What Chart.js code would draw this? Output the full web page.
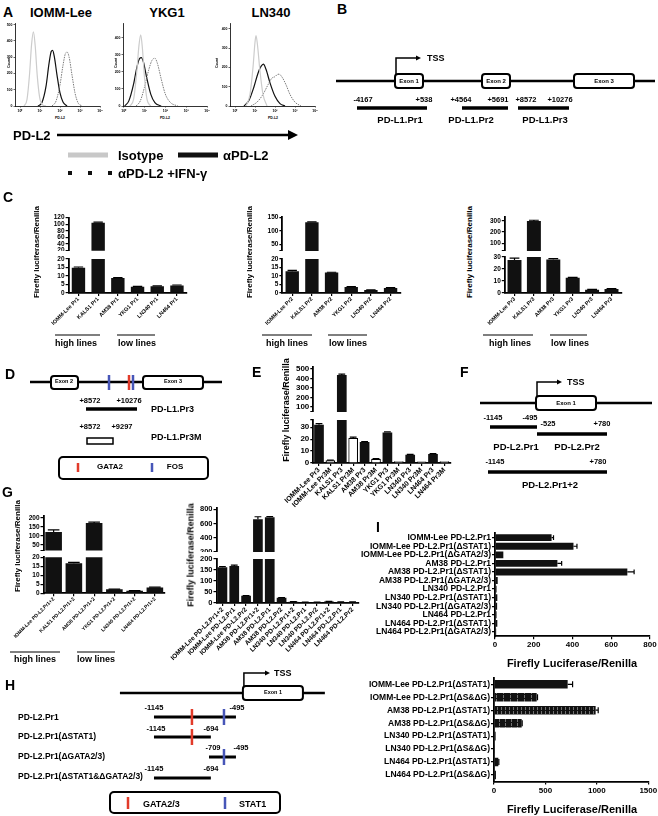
<!DOCTYPE html>
<html>
<head>
<meta charset="utf-8">
<script src="https://cdn.jsdelivr.net/npm/chart.js@4/dist/chart.umd.min.js"></script>
<style>
  html, body { margin: 0; padding: 0; background: #fff; }
  #fig { position: relative; width: 658px; height: 816px; overflow: hidden; background: #fff;
         font-family: "Liberation Sans", Arial, Helvetica, sans-serif; font-weight: bold; color: #000; }
  #fig canvas { position: absolute; }
  .t { position: absolute; white-space: nowrap; line-height: 1; }
</style>
</head>
<body>
<div id="fig"></div>
<script>
// ---- A: flow histograms, x = log10 decade, y = count ----
const decadeTicks = [0, 1, 2, 3, 4];
const decadeText = ['10⁰', '10¹', '10²', '10³', '10⁴'];
const isoIOMM = [[0.2,0],[0.35,40],[0.48,200],[0.58,380],[0.67,455],[0.76,370],[0.86,190],[0.98,55],[1.12,8],[1.3,0]];
const pdl2IOMM = [[0.9,0],[1.1,22],[1.3,120],[1.45,260],[1.56,335],[1.63,342],[1.72,300],[1.85,190],[2.0,80],[2.15,25],[2.35,0]];
const ifnIOMM = [[1.6,0],[1.8,30],[2.0,130],[2.15,250],[2.28,325],[2.36,331],[2.46,298],[2.6,190],[2.75,80],[2.9,20],[3.1,0]];
const isoYKG1 = [[0.3,0],[0.48,40],[0.63,200],[0.74,360],[0.82,418],[0.9,340],[1.0,170],[1.12,40],[1.3,0]];
const pdl2YKG1 = [[0.05,0],[0.25,30],[0.48,130],[0.64,230],[0.77,280],[0.85,284],[0.95,258],[1.1,170],[1.3,70],[1.5,20],[1.8,0]];
const ifnYKG1 = [[0.6,0],[0.8,30],[1.0,110],[1.2,210],[1.36,268],[1.5,280],[1.62,250],[1.8,160],[2.0,70],[2.25,20],[2.6,0]];
const isoLN340 = [[0.55,0],[0.75,60],[0.9,200],[1.0,330],[1.05,365],[1.12,320],[1.25,180],[1.4,60],[1.6,0]];
const pdl2LN340 = [[0.45,0],[0.7,30],[0.95,100],[1.15,170],[1.3,205],[1.42,217],[1.55,190],[1.75,120],[2.0,50],[2.25,12],[2.5,0]];
const ifnLN340 = [[0.8,0],[1.1,20],[1.4,60],[1.65,110],[1.85,145],[2.0,152],[2.1,162],[2.2,165],[2.35,150],[2.55,110],[2.75,60],[3.0,20],[3.3,0]];
const countTicks500 = [0, 100, 200, 300, 400, 500];
const countTicks400 = [0, 100, 200, 300, 400];

// ---- C: PD-L1 promoter fragments ----
const c1Labels = ['IOMM-Lee Pr1', 'KALS1 Pr1', 'AM38 Pr1', 'YKG1 Pr1', 'LN340 Pr1', 'LN464 Pr1'];
const c1Values = [14.8, 105, 8.8, 3.7, 4.0, 4.4];
const c1Errors = [0.5, 1.5, 0.2, 0.2, 0.2, 0.3];
const c2Labels = ['IOMM-Lee Pr2', 'KALS1 Pr2', 'AM38 Pr2', 'YKG1 Pr2', 'LN340 Pr2', 'LN464 Pr2'];
const c2Values = [12.8, 132, 12, 3.6, 1.8, 3.0];
const c2Errors = [0.5, 2, 0.2, 0.2, 0.1, 0.2];
const c3Labels = ['IOMM-Lee Pr3', 'KALS1 Pr3', 'AM38 Pr3', 'YKG1 Pr3', 'LN340 Pr3', 'LN464 Pr3'];
const c3Values = [27.5, 298, 28, 12.7, 2.8, 3.4];
const c3Errors = [1.5, 8, 0.7, 0.3, 0.2, 0.3];
const c1UpperTicks = [20, 40, 60, 80, 100, 120];
const c2UpperTicks = [25, 50, 100, 150];
const c2UpperText = ['', '50', '100', '150'];
const c3UpperTicks = [30, 100, 200, 300];
const c3UpperText = ['', '100', '200', '300'];
const lower20Ticks = [0, 5, 10, 15, 20];
const lower30Ticks = [0, 10, 20, 30];

// ---- E: Pr3 vs mutated Pr3M ----
const eLabels = ['IOMM-Lee Pr3', 'IOMM-Lee Pr3M', 'KALS1 Pr3', 'KALS1 Pr3M', 'AM38 Pr3', 'AM38 Pr3M',
                 'YKG1 Pr3', 'YKG1 Pr3M', 'LN340 Pr3', 'LN340 Pr3M', 'LN464 Pr3', 'LN464 Pr3M'];
const eValues = [32, 2.2, 437, 21, 17.5, 3.5, 25.5, 1.5, 7, 1.2, 7.5, 1.5];
const eErrors = [1, 0.2, 8, 0.6, 0.4, 0.2, 0.6, 0, 0.2, 0, 0.3, 0];
const eUpperTicks = [47, 100, 200, 300, 400, 500];
const eUpperText = ['', '100', '200', '300', '400', '500'];
const eLowerTicks = [0, 10, 20, 30, 36];
const eLowerText = ['0', '10', '20', '30', ''];

// ---- G: PD-L2 promoter fragments ----
const g1Labels = ['IOMM-Lee PD-L2.Pr1+2', 'KALS1 PD-L2.Pr1+2', 'AM38 PD-L2.Pr1+2', 'YKG1 PD-L2.Pr1+2', 'LN340 PD-L2.Pr1+2', 'LN464 PD-L2.Pr1+2'];
const g1Values = [122, 16.7, 172, 2.2, 1.4, 3.2];
const g1Errors = [12, 0.5, 4, 0.1, 0.1, 0.2];
const g1UpperTicks = [20, 50, 100, 150, 200];
const g1UpperText = ['', '50', '100', '150', '200'];
const g2Labels = ['IOMM-Lee PD-L2.Pr1+2', 'IOMM-Lee PD-L2.Pr1', 'IOMM-Lee PD-L2.Pr2', 'AM38 PD-L2.Pr1+2', 'AM38 PD-L2.Pr1', 'AM38 PD-L2.Pr2',
                  'LN340 PD-L2.Pr1+2', 'LN340 PD-L2.Pr1', 'LN340 PD-L2.Pr2', 'LN464 PD-L2.Pr1+2', 'LN464 PD-L2.Pr1', 'LN464 PD-L2.Pr2'];
const g2Values = [162, 168, 33, 662, 688, 24, 6, 4, 4, 7, 5, 5];
const g2Errors = [4, 4, 1, 35, 12, 1, 0.5, 0.3, 0.3, 0.5, 0.3, 0.3];
const g2UpperTicks = [200, 400, 600, 800];
const g2LowerTicks = [0, 50, 100, 150, 200];

// ---- H: PD-L2.Pr1 deletion constructs (bp) ----
const hConstructs = [[-1145, -495], [-1145, -694], [-709, -495], [-1145, -694]];
const hGataRows = [0, 1];
const hStatRows = [0, 2];
const gataSite = -844;
const stat1Site = -590;

// ---- I: horizontal luciferase bars ----
const i1Labels = ['IOMM-Lee PD-L2.Pr1', 'IOMM-Lee PD-L2.Pr1(ΔSTAT1)', 'IOMM-Lee PD-L2.Pr1(ΔGATA2/3)', 'AM38 PD-L2.Pr1',
                  'AM38 PD-L2.Pr1(ΔSTAT1)', 'AM38 PD-L2.Pr1(ΔGATA2/3)', 'LN340 PD-L2.Pr1', 'LN340 PD-L2.Pr1(ΔSTAT1)',
                  'LN340 PD-L2.Pr1(ΔGATA2/3)', 'LN464 PD-L2.Pr1', 'LN464 PD-L2.Pr1(ΔSTAT1)', 'LN464 PD-L2.Pr1(ΔGATA2/3)'];
const i1Values = [292, 405, 43, 322, 683, 14, 8, 12, 11, 8, 12, 6];
const i1Errors = [10, 18, 0, 22, 35, 0, 0, 0, 0, 0, 0, 0];
const i1Ticks = [0, 200, 400, 600, 800];
const i2Labels = ['IOMM-Lee PD-L2.Pr1(ΔSTAT1)', 'IOMM-Lee PD-L2.Pr1(ΔS&ΔG)', 'AM38 PD-L2.Pr1(ΔSTAT1)', 'AM38 PD-L2.Pr1(ΔS&ΔG)',
                  'LN340 PD-L2.Pr1(ΔSTAT1)', 'LN340 PD-L2.Pr1(ΔS&ΔG)', 'LN464 PD-L2.Pr1(ΔSTAT1)', 'LN464 PD-L2.Pr1(ΔS&ΔG)'];
const i2Values = [716, 415, 988, 269, 16, 8, 42, 19];
const i2Errors = [48, 8, 25, 5, 0, 0, 5, 0];
const i2Ticks = [0, 500, 1000, 1500];

const RED = '#e23b2a', BLUE = '#4756b8';

Chart.defaults.font.family = '"Liberation Sans", Arial, Helvetica, sans-serif';
Chart.defaults.font.weight = 'bold';
Chart.defaults.color = '#000';
Chart.defaults.animation = false;
Chart.defaults.responsive = false;
Chart.defaults.events = [];
Chart.defaults.plugins.legend.display = false;
Chart.defaults.plugins.tooltip.enabled = false;

// error bars, positive side only, drawn only where the bar top sits in this segment
Chart.register({
  id: 'errs',
  afterDatasetsDraw(chart) {
    const ctx = chart.ctx, hz = chart.options.indexAxis === 'y';
    chart.data.datasets.forEach((ds, di) => {
      if (!ds.errors) return;
      const vs = hz ? chart.scales.x : chart.scales.y;
      ctx.save();
      ctx.strokeStyle = '#000'; ctx.lineWidth = 1.2;
      chart.getDatasetMeta(di).data.forEach((bar, i) => {
        const e = ds.errors[i], v = ds.data[i];
        if (!e || v > vs.max || v + e < vs.min) return;
        const p0 = vs.getPixelForValue(Math.max(v, vs.min)), p1 = vs.getPixelForValue(Math.min(v + e, vs.max));
        const half = (hz ? bar.height : bar.width) * 0.35;
        ctx.beginPath();
        if (hz) { ctx.moveTo(p0, bar.y); ctx.lineTo(p1, bar.y); ctx.moveTo(p1, bar.y - half); ctx.lineTo(p1, bar.y + half); }
        else { ctx.moveTo(bar.x, p0); ctx.lineTo(bar.x, p1); ctx.moveTo(bar.x - half, p1); ctx.lineTo(bar.x + half, p1); }
        ctx.stroke();
      });
      ctx.restore();
    });
  }
});

const fig = document.getElementById('fig');

function place(x, y, w, h) {
  const c = document.createElement('canvas');
  c.width = w; c.height = h;
  c.style.left = x + 'px'; c.style.top = y + 'px';
  c.style.width = w + 'px'; c.style.height = h + 'px';
  fig.appendChild(c);
  return c;
}

// canvas around a wanted chart area [x0,y0,x1,y1]
function frame(a, m) {
  const x = Math.floor(a[0] - m.l), y = Math.floor(a[1] - m.t);
  const w = Math.ceil(a[2] + m.r) - x, h = Math.ceil(a[3] + m.b) - y;
  return { c: place(x, y, w, h), l: a[0] - x, t: a[1] - y, r: x + w - a[2], b: y + h - a[3] };
}

const fixW = w => s => { s.width = w; s.paddingTop = s.paddingBottom = s.paddingLeft = s.paddingRight = 0; };
const fixH = h => s => { s.height = h; s.paddingTop = s.paddingBottom = s.paddingLeft = s.paddingRight = 0; };

function T(s, x, y, size, align) {
  const d = document.createElement('div');
  d.className = 't'; d.textContent = s;
  d.style.left = x + 'px'; d.style.top = y + 'px'; d.style.fontSize = size + 'px';
  const tx = align === 'l' ? '0' : align === 'r' ? '-100%' : '-50%';
  d.style.transform = 'translate(' + tx + ',-50%)';
  fig.appendChild(d);
}
function V(s, x, y, size) {
  const d = document.createElement('div');
  d.className = 't'; d.textContent = s;
  d.style.left = x + 'px'; d.style.top = y + 'px'; d.style.fontSize = size + 'px';
  d.style.transform = 'translate(-50%,-50%) rotate(-90deg)';
  fig.appendChild(d);
}

// one segment of a (possibly broken) bar chart
function barSeg(o) {
  const hz = !!o.hz, showCat = o.showCat !== false;
  const f = frame(o.area, o.m);
  const val = {
    type: 'linear', min: o.min, max: o.max,
    afterBuildTicks: s => { s.ticks = o.ticks.map(v => ({ value: v })); },
    ticks: { autoSkip: false, font: { size: o.vFont }, padding: 1, maxRotation: 0,
             callback: (v, i) => (o.tickText ? o.tickText[i] : v) },
    grid: { drawOnChartArea: false, tickLength: 3, color: '#000', lineWidth: 1.2 },
    border: { color: '#000', width: 1.8 },
    afterFit: hz ? fixH(f.b) : fixW(f.l)
  };
  const cat = {
    type: 'category', offset: true, display: showCat,
    ticks: { autoSkip: false, font: { size: o.cFont }, padding: hz ? 1 : 0, minRotation: hz ? 0 : 45, maxRotation: hz ? 0 : 45 },
    grid: { offset: false, drawOnChartArea: false, tickLength: 3, color: '#000', lineWidth: 1.2 },
    border: { color: '#000', width: 1.8 }
  };
  if (showCat) cat.afterFit = hz ? fixW(f.l) : fixH(f.b);
  const pad = { left: 0, top: f.t, right: f.r, bottom: !hz && !showCat ? f.b : 0 };
  return new Chart(f.c, {
    type: 'bar',
    data: { labels: o.labels, datasets: [{ data: o.values, errors: o.errors, backgroundColor: o.fill || '#111',
      borderColor: '#000', borderWidth: o.bw || 0, barPercentage: o.bp, categoryPercentage: 1, clip: 0 }] },
    options: { indexAxis: hz ? 'y' : 'x', layout: { padding: pad }, scales: hz ? { x: val, y: cat } : { x: cat, y: val } }
  });
}

function histo(area, curves, yTicks, yMax, xMin) {
  const f = frame(area, { l: 10, t: 3, r: 3, b: 8 });
  const look = [
    { borderColor: '#cccccc', borderWidth: 1.2 },
    { borderColor: '#7a7a7a', borderWidth: 1, borderDash: [1.5, 1] },
    { borderColor: '#111111', borderWidth: 1.2 }
  ];
  const axisGrid = { drawOnChartArea: false, tickLength: 1.5, color: '#000', lineWidth: 0.6 };
  return new Chart(f.c, {
    type: 'line',
    data: { datasets: curves.map((pts, i) => Object.assign({ data: pts.map(p => ({ x: p[0], y: p[1] })),
      pointRadius: 0, cubicInterpolationMode: 'monotone', fill: false, clip: 0 }, look[i])) },
    options: {
      layout: { padding: { left: 0, top: f.t, right: f.r, bottom: 0 } },
      scales: {
        x: { type: 'linear', min: xMin, max: 4, afterBuildTicks: s => { s.ticks = decadeTicks.map(v => ({ value: v })); },
             ticks: { autoSkip: false, font: { size: 3.5 }, padding: 1, maxRotation: 0, callback: (v, i) => decadeText[i] },
             grid: axisGrid, border: { color: '#000', width: 0.8 }, afterFit: fixH(f.b) },
        y: { type: 'linear', min: 0, max: yMax, afterBuildTicks: s => { s.ticks = yTicks.map(v => ({ value: v })); },
             ticks: { autoSkip: false, font: { size: 3.5 }, padding: 1 },
             grid: axisGrid, border: { color: '#000', width: 0.8 }, afterFit: fixW(f.l) }
      }
    }
  });
}

// schematic drawings through hidden linear scales
function drawSpec(ch, s) {
  const ctx = ch.ctx, X = v => ch.scales.x.getPixelForValue(v), Y = v => ch.scales.y.getPixelForValue(v);
  ctx.save();
  (s.lines || []).forEach(([x1, x2, y, w, col]) => {
    ctx.strokeStyle = col || '#000'; ctx.lineWidth = w;
    ctx.beginPath(); ctx.moveTo(X(x1), Y(y)); ctx.lineTo(X(x2), Y(y)); ctx.stroke();
  });
  (s.boxes || []).forEach(([x1, x2, y1, y2, w, r]) => {
    ctx.fillStyle = '#fff'; ctx.strokeStyle = '#000'; ctx.lineWidth = w;
    ctx.beginPath();
    if (ctx.roundRect) ctx.roundRect(X(x1), Y(y1), X(x2) - X(x1), Y(y2) - Y(y1), r);
    else ctx.rect(X(x1), Y(y1), X(x2) - X(x1), Y(y2) - Y(y1));
    ctx.fill(); ctx.stroke();
  });
  (s.marks || []).forEach(([x, y1, y2, w, col]) => {
    ctx.strokeStyle = col; ctx.lineWidth = w;
    ctx.beginPath(); ctx.moveTo(X(x), Y(y1)); ctx.lineTo(X(x), Y(y2)); ctx.stroke();
  });
  (s.arrows || []).forEach(([pts, w, head]) => {
    const last = pts[pts.length - 1], ex = X(last[0]), ey = Y(last[1]);
    ctx.strokeStyle = '#000'; ctx.fillStyle = '#000'; ctx.lineWidth = w;
    ctx.beginPath();
    pts.forEach((p, i) => {
      const px = i === pts.length - 1 ? ex - head * 0.8 : X(p[0]);
      if (i === 0) ctx.moveTo(px, Y(p[1])); else ctx.lineTo(px, Y(p[1]));
    });
    ctx.stroke();
    ctx.beginPath(); ctx.moveTo(ex, ey); ctx.lineTo(ex - head, ey - head * 0.5); ctx.lineTo(ex - head, ey + head * 0.5); ctx.closePath(); ctx.fill();
  });
  ctx.restore();
}
function diagram(box, xr, spec) {
  const c = place(box[0], box[1], box[2] - box[0], box[3] - box[1]);
  return new Chart(c, {
    type: 'scatter',
    data: { datasets: [] },
    options: {
      layout: { padding: 0 },
      scales: {
        x: { type: 'linear', display: false, min: xr ? xr[0] : box[0], max: xr ? xr[1] : box[2] },
        y: { type: 'linear', display: false, reverse: true, min: box[1], max: box[3] }
      }
    },
    plugins: [{ id: 'dg', afterDraw: ch => drawSpec(ch, spec) }]
  });
}

// ================= A =================
histo([15, 23, 100, 106], [isoIOMM, ifnIOMM, pdl2IOMM], countTicks500, 510, -0.25);
histo([123, 23, 207, 106], [isoYKG1, ifnYKG1, pdl2YKG1], countTicks400, 487, -0.03);
histo([230, 23, 315, 106], [isoLN340, ifnLN340, pdl2LN340], countTicks400, 430, -0.25);
diagram([0, 125, 330, 182], null, {
  lines: [[68, 108, 155, 5, '#c8c8c8'], [178, 218, 155, 5, '#111'], [68, 72, 173, 4, '#111'], [88, 92, 173, 4, '#111'], [108, 112, 173, 4, '#111']],
  arrows: [[[[57, 135], [298, 135]], 2.5, 10]]
});

// ================= B =================
diagram([330, 40, 658, 130], null, {
  lines: [[336, 655, 81, 2.5], [357, 427, 108, 3.5], [462, 508, 108, 3.5], [518, 569, 108, 3.5]],
  boxes: [[395, 423, 74, 88, 2, 3], [482, 510, 74, 88, 2, 3], [574, 634, 74, 88, 2, 3]],
  arrows: [[[[396, 74], [396, 58], [421, 58]], 1.5, 5]]
});

// ================= C =================
const cM = { l: 28, t: 5, r: 3, b: 0 }, cML = { l: 30, t: 4, r: 3, b: 40 };
barSeg({ area: [68.6, 217.7, 186.8, 250.7], m: cM, labels: c1Labels, values: c1Values, errors: c1Errors, min: 20, max: 120, ticks: c1UpperTicks, vFont: 6.5, cFont: 5.5, bp: 0.68, showCat: false });
barSeg({ area: [68.6, 259, 186.8, 293], m: cML, labels: c1Labels, values: c1Values, errors: c1Errors, min: 0, max: 20, ticks: lower20Ticks, vFont: 6.5, cFont: 5.5, bp: 0.68 });
barSeg({ area: [282.4, 217, 400.4, 251], m: cM, labels: c2Labels, values: c2Values, errors: c2Errors, min: 25, max: 152, ticks: c2UpperTicks, tickText: c2UpperText, vFont: 6.5, cFont: 5.5, bp: 0.68, showCat: false });
barSeg({ area: [282.4, 259, 400.4, 293], m: cML, labels: c2Labels, values: c2Values, errors: c2Errors, min: 0, max: 20, ticks: lower20Ticks, vFont: 6.5, cFont: 5.5, bp: 0.68 });
barSeg({ area: [504.8, 217, 621.2, 251], m: cM, labels: c3Labels, values: c3Values, errors: c3Errors, min: 30, max: 335, ticks: c3UpperTicks, tickText: c3UpperText, vFont: 6.5, cFont: 5.5, bp: 0.72, showCat: false });
barSeg({ area: [504.8, 257, 621.2, 293], m: cML, labels: c3Labels, values: c3Values, errors: c3Errors, min: 0, max: 30, ticks: lower30Ticks, vFont: 6.5, cFont: 5.5, bp: 0.72 });

diagram([0, 328, 600, 656], null, {
  lines: [[55, 100, 335, 1.2], [117, 155, 335, 1.2], [262, 312, 335, 1.2], [328, 367, 335, 1.2],
          [483, 533, 335, 1.2], [550, 587, 335, 1.2], [10, 60, 652, 1.2], [77, 115, 652, 1.2]]
});

// ================= D =================
diagram([0, 365, 222, 482], null, {
  lines: [[30, 222, 382, 2.5], [86, 137, 409, 3.5]],
  boxes: [[51, 78, 376, 389, 2, 3], [143, 203, 376, 389, 2, 3], [87, 113, 438, 444, 1.5, 0], [59, 208, 457, 479, 2, 4]],
  marks: [[109, 375, 390, 2.5, BLUE], [129, 375, 390, 2.5, RED], [133, 375, 390, 2.5, BLUE], [78, 463, 472, 2.5, RED], [152, 463, 472, 2.5, BLUE]]
});

// ================= E =================
const eFill = eLabels.map(l => (l.endsWith('M') ? '#fff' : '#111'));
const eBorder = eLabels.map(l => (l.endsWith('M') ? 1.2 : 0));
barSeg({ area: [313.3, 367, 450.1, 412], m: { l: 30, t: 5, r: 3, b: 0 }, labels: eLabels, values: eValues, errors: eErrors, min: 47, max: 520, ticks: eUpperTicks, tickText: eUpperText, vFont: 8, cFont: 7, bp: 0.85, fill: eFill, bw: eBorder, showCat: false });
barSeg({ area: [313.3, 420, 450.1, 463], m: { l: 42, t: 5, r: 6, b: 50 }, labels: eLabels, values: eValues, errors: eErrors, min: 0, max: 36, ticks: eLowerTicks, tickText: eLowerText, vFont: 8, cFont: 7, bp: 0.85, fill: eFill, bw: eBorder });

// ================= F =================
diagram([430, 370, 658, 480], null, {
  lines: [[480, 652, 403, 2.5], [490, 537, 427, 3.5], [537, 607, 434, 3.5], [488, 607, 472, 3.5]],
  boxes: [[536, 596, 396, 410, 2, 3]],
  arrows: [[[[537, 396], [537, 382], [562, 382]], 1.5, 5]]
});

// ================= G =================
barSeg({ area: [43.5, 516, 165, 550.5], m: { l: 28, t: 5, r: 3, b: 0 }, labels: g1Labels, values: g1Values, errors: g1Errors, min: 20, max: 210, ticks: g1UpperTicks, tickText: g1UpperText, vFont: 6.5, cFont: 5, bp: 0.82, showCat: false });
barSeg({ area: [43.5, 557.3, 165, 593.3], m: { l: 38, t: 4, r: 3, b: 45 }, labels: g1Labels, values: g1Values, errors: g1Errors, min: 0, max: 20, ticks: lower20Ticks, vFont: 6.5, cFont: 5, bp: 0.82 });
barSeg({ area: [216.5, 508, 358.5, 552], m: { l: 28, t: 5, r: 3, b: 0 }, labels: g2Labels, values: g2Values, errors: g2Errors, min: 200, max: 820, ticks: g2UpperTicks, vFont: 7.5, cFont: 6.5, bp: 0.82, showCat: false });
barSeg({ area: [216.5, 559, 358.5, 603], m: { l: 60, t: 4, r: 3, b: 66 }, labels: g2Labels, values: g2Values, errors: g2Errors, min: 0, max: 200, ticks: g2LowerTicks, vFont: 7.5, cFont: 6.5, bp: 0.82 });

// ================= H =================
const hRowY = [717, 737, 757, 778];
diagram([0, 665, 340, 786], [-2366, 330], {
  lines: [[-1415, 210, 693, 2.5]].concat(hConstructs.map((c, i) => [c[0], c[1], hRowY[i], 3])),
  boxes: [[-440, 36, 686, 700, 2, 3]],
  marks: hGataRows.map(r => [gataSite, hRowY[r] - 8, hRowY[r] + 8, 2.5, RED])
           .concat(hStatRows.map(r => [stat1Site, hRowY[r] - 8, hRowY[r] + 8, 2.5, BLUE])),
  arrows: [[[[-432, 686], [-432, 673], [-225, 673]], 1.5, 5]]
});
diagram([100, 786, 290, 816], null, {
  boxes: [[110, 280, 792, 813, 2, 4]],
  marks: [[128, 797, 809, 2.5, RED], [225, 797, 809, 2.5, BLUE]]
});

// ================= I =================
function hatch(gap) {
  const p = document.createElement('canvas'); p.width = gap; p.height = 4;
  const g = p.getContext('2d');
  g.fillStyle = '#111'; g.fillRect(0, 0, gap, 4);
  g.fillStyle = '#8a8a8a'; g.fillRect(0, 0, 0.8, 3);
  return g.createPattern(p, 'repeat');
}
const i2Fill = ['#111', hatch(7), hatch(4), hatch(6), '#111', '#111', '#111', '#111'];
barSeg({ hz: true, area: [495, 533.4, 650, 636.2], m: { l: 145, t: 2, r: 8, b: 12 }, labels: i1Labels, values: i1Values, errors: i1Errors, min: 0, max: 800, ticks: i1Ticks, vFont: 8, cFont: 8.5, bp: 0.8 });
barSeg({ hz: true, area: [494, 677.8, 648.3, 781.5], m: { l: 145, t: 2, r: 10, b: 14 }, labels: i2Labels, values: i2Values, errors: i2Errors, min: 0, max: 1500, ticks: i2Ticks, vFont: 8, cFont: 8.5, bp: 0.66, fill: i2Fill });

// ================= texts =================
T('A', 3, 12, 14, 'l'); T('IOMM-Lee', 61, 12, 13); T('YKG1', 167, 12, 13); T('LN340', 271, 12, 13);
V('Count', 10, 63, 3.5); V('Count', 117, 63, 3.5); V('Count', 218, 63, 3.5);
T('PD-L2', 60, 119, 3.5); T('PD-L2', 165, 119, 3.5); T('PD-L2', 273, 119, 3.5);
T('PD-L2', 13, 135, 13, 'l');
T('Isotype', 118, 155, 13, 'l'); T('αPD-L2', 223, 155, 13, 'l'); T('αPD-L2 +IFN-γ', 118, 173, 13, 'l');

T('B', 337, 9, 14, 'l'); T('TSS', 427, 58, 9, 'l');
T('Exon 1', 409, 81, 6); T('Exon 2', 496, 81, 6); T('Exon 3', 604, 81, 6);
[['-4167', 363], ['+538', 424], ['+4564', 461], ['+5691', 498], ['+8572', 526], ['+10276', 560]].forEach(p => T(p[0], p[1], 100, 7.5));
[['PD-L1.Pr1', 400], ['PD-L1.Pr2', 471], ['PD-L1.Pr3', 545]].forEach(p => T(p[0], p[1], 120, 9.5));

T('C', 3, 197, 14, 'l');
V('Firefly luciferase/Renilla', 37, 252, 8); V('Firefly luciferase/Renilla', 250, 252, 8); V('Firefly luciferase/Renilla', 470, 252, 8);
T('high lines', 76, 343, 9); T('low lines', 137, 343, 9);
T('high lines', 287, 343, 9); T('low lines', 348, 343, 9);
T('high lines', 510, 343, 9); T('low lines', 570, 343, 9);

T('D', 5, 374, 14, 'l'); T('Exon 2', 64, 382, 5.5); T('Exon 3', 173, 382, 5.5);
T('+8572', 90, 401, 7.5); T('+10276', 129, 401, 7.5); T('PD-L1.Pr3', 151, 409, 9, 'l');
T('+8572', 90, 427, 7.5); T('+9297', 122, 427, 7.5); T('PD-L1.Pr3M', 151, 437, 9, 'l');
T('GATA2', 110, 467, 8); T('FOS', 175, 467, 8);

T('E', 252, 372, 14, 'l'); V('Firefly luciferase/Renilla', 286, 410, 9);

T('F', 460, 372, 14, 'l'); T('TSS', 567, 382, 9, 'l'); T('Exon 1', 566, 403, 6);
T('-1145', 493, 418, 7.5); T('-495', 530, 418, 7.5); T('-525', 548, 424, 7.5); T('+780', 602, 424, 7.5);
T('PD-L2.Pr1', 516, 447, 9.5); T('PD-L2.Pr2', 577, 447, 9.5);
T('-1145', 495, 462, 7.5); T('+780', 598, 462, 7.5); T('PD-L2.Pr1+2', 550, 485, 9.5);

T('G', 2, 492, 14, 'l');
V('Firefly luciferase/Renilla', 18, 546, 8); V('Firefly luciferase/Renilla', 191, 555, 9);
T('high lines', 35, 659, 9); T('low lines', 96, 659, 9);

T('H', 5, 685, 14, 'l'); T('TSS', 274, 673, 9, 'l'); T('Exon 1', 273, 693, 5.5);
T('PD-L2.Pr1', 18, 717, 8.5, 'l'); T('PD-L2.Pr1(ΔSTAT1)', 18, 736, 8.5, 'l');
T('PD-L2.Pr1(ΔGATA2/3)', 18, 756, 8.5, 'l'); T('PD-L2.Pr1(ΔSTAT1&ΔGATA2/3)', 18, 776, 8.5, 'l');
[['-1145', 154, 708], ['-495', 237, 708], ['-1145', 156, 729], ['-694', 211, 729],
 ['-709', 213, 748], ['-495', 241, 748], ['-1145', 154, 769], ['-694', 211, 769]].forEach(p => T(p[0], p[1], p[2], 7.5));
T('GATA2/3', 143, 804, 9, 'l'); T('STAT1', 239, 804, 9, 'l');

T('I', 376, 527, 14, 'l');
T('Firefly Luciferase/Renilla', 572, 663, 11); T('Firefly Luciferase/Renilla', 572, 809, 11);
</script>
</body>
</html>
